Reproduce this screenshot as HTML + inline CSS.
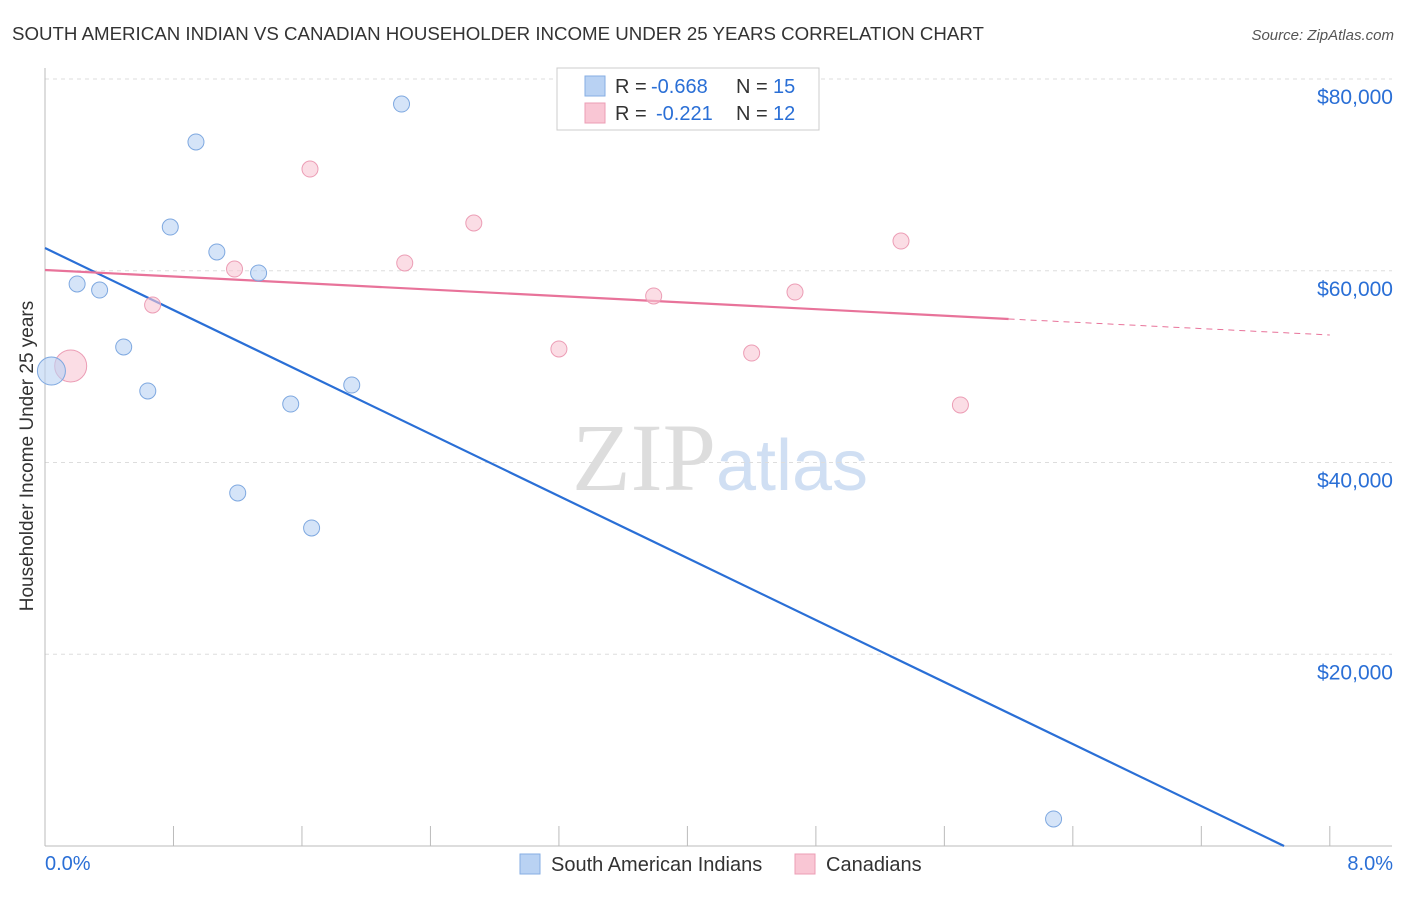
<!DOCTYPE html>
<html><head><meta charset="utf-8"><style>
body{margin:0;background:#fff;font-family:"Liberation Sans",sans-serif}
</style></head><body>
<svg id="chart" width="1406" height="892" xmlns="http://www.w3.org/2000/svg" font-family="Liberation Sans, sans-serif">
<text x="12" y="40" font-size="18.7" fill="#333">SOUTH AMERICAN INDIAN VS CANADIAN HOUSEHOLDER INCOME UNDER 25 YEARS CORRELATION CHART</text>
<text x="1394" y="40" font-size="15" fill="#555" text-anchor="end" font-style="italic">Source: ZipAtlas.com</text>
<text transform="translate(33,456) rotate(-90)" font-size="19" fill="#333" text-anchor="middle">Householder Income Under 25 years</text>
<text x="720" y="490" font-size="96" text-anchor="middle"><tspan fill="#ddd" font-family="Liberation Serif, serif">ZIP</tspan><tspan fill="#d0dff3" font-size="72">atlas</tspan></text>
<g id="grid"></g><g id="axes"></g><g id="lines"></g><g id="points"></g>
<g>
<rect x="557" y="68" width="262" height="62" fill="#fff" stroke="#ccc"/>
<rect x="585" y="76" width="20" height="20" fill="#b9d2f3" stroke="#86aee3"/>
<text x="615" y="93" font-size="20" fill="#333">R =</text>
<text x="651" y="93" font-size="20" fill="#2a6fd6">-0.668</text>
<text x="736" y="93" font-size="20" fill="#333">N =</text>
<text x="773" y="93" font-size="20" fill="#2a6fd6">15</text>
<rect x="585" y="103" width="20" height="20" fill="#f9c6d4" stroke="#ec9db5"/>
<text x="615" y="120" font-size="20" fill="#333">R =</text>
<text x="656" y="120" font-size="20" fill="#2a6fd6">-0.221</text>
<text x="736" y="120" font-size="20" fill="#333">N =</text>
<text x="773" y="120" font-size="20" fill="#2a6fd6">12</text>
</g>
<g>
<rect x="520" y="854" width="20" height="20" fill="#b9d2f3" stroke="#86aee3"/>
<text x="551" y="871" font-size="20" fill="#333">South American Indians</text>
<rect x="795" y="854" width="20" height="20" fill="#f9c6d4" stroke="#ec9db5"/>
<text x="826" y="871" font-size="20" fill="#333">Canadians</text>
</g>
</svg>
<script>
const yTicks=[20000,40000,60000,80000];
const yTickLabels=["$20,000","$40,000","$60,000","$80,000"];
const xTickLabels=["0.0%","8.0%"];
const blueX=[0.04,0.20,0.34,0.49,0.64,0.78,0.94,1.07,1.20,1.33,1.53,1.66,1.91,2.22,6.28];
const blueY=[49540,58620,57990,52050,47460,64560,73430,61960,36820,59770,46100,33170,48080,77390,2820];
const blueR=[14,8,8,8,8,8,8,8,8,8,8,8,8,8,8];
const pinkX=[0.16,0.67,1.18,1.65,2.24,2.67,3.20,3.79,4.40,4.67,5.33,5.70];
const pinkY=[50070,56430,60180,70610,60810,64980,51840,57370,51420,57780,63100,46000];
const pinkR=[16,8,8,8,8,8,8,8,8,8,8,8];
const blueLine=[[0,62370],[7.715,0]];
const pinkLine=[[0,60080],[6.0,54970]];
const pinkDash=[[6.0,54970],[8.0,53300]];
const NS="http://www.w3.org/2000/svg";
const sx=v=>45+v*160.6;
const sy=v=>846-v/20000*191.75;
function mk(tag,attrs,parent){const e=document.createElementNS(NS,tag);for(const k in attrs)e.setAttribute(k,attrs[k]);document.getElementById(parent).appendChild(e);return e;}
yTicks.forEach((t,i)=>{
 const g=mk('line',{x1:45,x2:1392,y1:sy(t),y2:sy(t),stroke:'#ddd','stroke-dasharray':'4,4'},'grid');
 
 
 const l=mk('text',{x:1393,y:sy(t)+25,'font-size':21,fill:'#2a6fd6','text-anchor':'end'},'axes');
 l.textContent=yTickLabels[i];
 
 
});
const ax=mk('line',{x1:45,x2:45,y1:68,y2:846,stroke:'#bbb'},'axes');


const bx=mk('line',{x1:45,x2:1392,y1:846,y2:846,stroke:'#bbb'},'axes');


for(let i=1;i<=10;i++){
 const tk=mk('line',{x1:sx(i*0.8),x2:sx(i*0.8),y1:826,y2:846,stroke:'#bbb'},'axes');
 
 
}
[[0,'start',45],[1,'end',1393]].forEach(([i,a,x])=>{
 const t=mk('text',{x:x,y:870,'font-size':20,fill:'#2a6fd6','text-anchor':a},'axes');
 t.textContent=xTickLabels[i];
 
 
});
function line(pts,color,name,dash){
 const l=mk('line',{x1:sx(pts[0][0]),y1:sy(pts[0][1]),x2:sx(pts[1][0]),y2:sy(pts[1][1]),stroke:color,'stroke-width':dash?1:2.2},'lines');
 if(dash)l.setAttribute('stroke-dasharray','6,5');
 
 
}
line(blueLine,'#2a6fd6','trend-line-south-american');
line(pinkLine,'#e8739a','trend-line-canadians');
line(pinkDash,'#e8739a','trend-line-canadians-extension',true);
function pts(X,Y,R,fill,stroke,name){
 X.forEach((x,i)=>{
  const c=mk('circle',{cx:sx(x),cy:sy(Y[i]),r:R[i],fill:fill,stroke:stroke,'stroke-width':1,'fill-opacity':0.6},'points');
  
  
 });
}
pts(pinkX,pinkY,pinkR,'#f9c6d4','#ec9db5','point-canadians');
pts(blueX,blueY,blueR,'#b9d2f3','#7ea8e0','point-south-american');
</script>
</body></html>
